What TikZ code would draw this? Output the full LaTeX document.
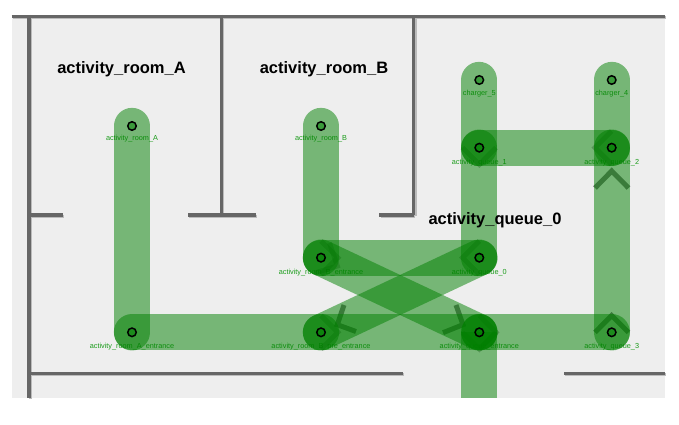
\documentclass[tikz,border=0pt]{standalone}
\usepackage{fontspec}
\setmainfont{Liberation Sans}
\definecolor{floorc}{HTML}{EEEEEE}
\definecolor{wallc}{HTML}{666666}
\definecolor{wallsh}{HTML}{BBBBBB}
\definecolor{pathc}{RGB}{0,128,0}
\definecolor{labc}{RGB}{25,155,25}
\tikzset{
  pt/.style={circle,draw=black,line width=1.5pt,fill=pathc,fill opacity=.5,inner sep=0pt,minimum size=8.5pt},
  lab/.style={text=labc,font=\fontsize{7.3}{8}\selectfont,inner sep=0pt,anchor=center},
  room/.style={text=black,font=\fontsize{16.5}{18}\selectfont\bfseries,inner sep=0pt,anchor=center},
  band/.style={pathc,opacity=.5,line width=36.3pt,line cap=round},
  bandb/.style={pathc,opacity=.5,line width=36.3pt},
  chev/.style={black,opacity=.5,line width=5pt,line join=miter},
  chevin/.style={black,opacity=.28,line width=5pt,line join=miter},
  wall/.style={wallc,line width=3.4pt},
  wallb/.style={wallsh,line width=3.4pt},
}
\begin{document}
\begin{tikzpicture}[x=1pt,y=-1pt]
\useasboundingbox (0,0) rectangle (679,425);
\fill[white] (0,0) rectangle (679,425);
\fill[floorc] (11.7,15) rectangle (665,398);
% walls
\foreach \a/\b/\c/\d in {11.7/16.5/665/16.5, 29/15/29/398, 221.5/15/221.5/215, 413.7/15/413.7/215, 29/215/63/215, 188/215/255.7/215, 379.3/215/413.7/215, 29/373.5/403/373.5, 564/373.5/665/373.5}{
  \draw[wallb] (\a+1.2,\b+1.2) -- (\c+1.2,\d+1.2);
}
\foreach \a/\b/\c/\d in {11.7/16.5/665/16.5, 29/15/29/398, 221.5/15/221.5/215, 413.7/15/413.7/215, 29/215/63/215, 188/215/255.7/215, 379.3/215/413.7/215, 29/373.5/403/373.5, 564/373.5/665/373.5}{
  \draw[wall] (\a,\b) -- (\c,\d);
}
% text labels of waypoints sit below the paths
\coordinate (ra) at (132,126);
\coordinate (rb) at (321,126);
\coordinate (c5) at (479.3,80);
\coordinate (c4) at (611.7,80);
\coordinate (q1) at (479.3,147.7);
\coordinate (q2) at (611.7,147.7);
\coordinate (be) at (321,257.7);
\coordinate (q0) at (479.3,257.7);
\coordinate (ae) at (132,332.3);
\coordinate (pe) at (321,332.3);
\coordinate (qe) at (479.3,332.3);
\coordinate (q3) at (611.7,332.3);
\coordinate (off) at (479.3,398);
\node[lab] at (132,139) {activity\_room\_A};
\node[lab] at (321,139) {activity\_room\_B};
\node[lab] at (479.3,94) {charger\_5};
\node[lab] at (611.7,94) {charger\_4};
\node[lab] at (479.3,162.5) {activity\_queue\_1};
\node[lab] at (611.7,162.5) {activity\_queue\_2};
\node[lab] at (321,272.5) {activity\_room\_B\_entrance};
\node[lab] at (479.3,272.5) {activity\_queue\_0};
\node[lab] at (132,346.5) {activity\_room\_A\_entrance};
\node[lab] at (321,346.5) {activity\_room\_B\_pre\_entrance};
\node[lab] at (479.3,346.5) {activity\_queue\_entrance};
\node[lab] at (611.7,346.5) {activity\_queue\_3};
% chevrons
\foreach \ax/\ay/\bx/\by/\cx/\cy in {
 611.7/171/595/188/628.5/188,
 611.7/315.5/595/332.3/628.5/332.3,
 337.3/324.7/344/305/356/331.5,
 463/324.7/456/305/443/332.7}{
 \draw[chev] (\bx,\by) -- (\ax,\ay) -- (\cx,\cy);
}
\foreach \ax/\ay/\bx/\by/\cx/\cy in {
 595/147.7/611.7/131/611.7/164.5,
 479.3/164.5/462.5/147.7/496/147.7,
 462.5/257.7/479.3/241/479.3/274.5,
 496/332.3/479.3/315.5/479.3/349,
 479.3/349/462.5/332.3/496/332.3,
 337.8/257.7/321/241/321/274.5,
 337.8/332.3/321/315.5/321/349,
 337.3/266/329.5/243/314.5/273}{
 \draw[chevin] (\bx,\by) -- (\ax,\ay) -- (\cx,\cy);
}
% paths
\foreach \s/\t in {ra/ae, ae/pe, pe/qe, qe/q3, rb/be, be/q0, be/qe, pe/q0, c5/q1, q1/q0, c4/q2, q2/q3, q1/q2}{
  \draw[band] (\s) -- (\t);
}
\draw[bandb,line cap=butt] (qe) -- (off);
\fill[pathc,opacity=.5] (qe) circle (18.15);
% waypoints
\foreach \n in {ra,rb,c5,c4,q1,q2,be,q0,ae,pe,qe,q3}{
  \node[pt] (n\n) at (\n) {};
}
\node[room] (ta) at (121.5,69) {activity\_room\_A};
\node[room] (tb) at (324,69) {activity\_room\_B};
\node[room] (tc) at (495,220) {activity\_queue\_0};
\end{tikzpicture}
\end{document}
